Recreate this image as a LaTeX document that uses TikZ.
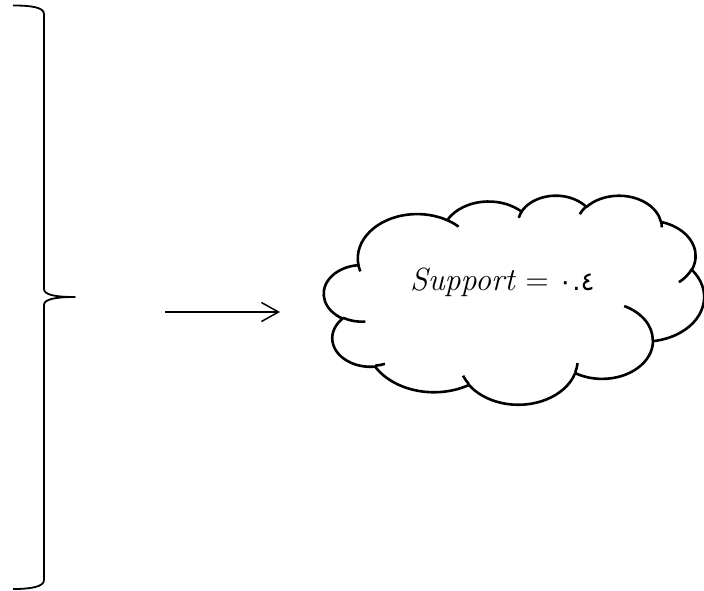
\documentclass[tikz,border=0pt]{standalone}
\usepackage{fontspec}
\newfontfamily\arabicfont[Script=Arabic]{DejaVu Sans}
\usetikzlibrary{arrows.meta}
\def\cux{8.796}
\def\cuy{4.838}
\newcommand\cloudarc[4]{%
  \pgfextra{%
    \pgfmathsetmacro\cA{atan2(#1*sin(#3),#2*cos(#3))}%
    \pgfmathsetmacro\cB{atan2(#1*sin(#3+#4),#2*cos(#3+#4))}%
    \pgfmathsetmacro\cD{\cB-\cA}%
    \pgfmathsetmacro\cD{ifthenelse(\cD<0,\cD+360,\cD)}%
    \pgfmathsetmacro\cS{-\cA}%
    \pgfmathsetmacro\cE{-\cA-\cD}%
    \pgfmathsetmacro\cRx{#1*\cux}%
    \pgfmathsetmacro\cRy{#2*\cuy}%
    \global\let\cS\cS \global\let\cE\cE
    \global\let\cRx\cRx \global\let\cRy\cRy
  }%
  arc[x radius=\cRx pt, y radius=\cRy pt, start angle=\cS, end angle=\cE]%
}
\tikzset{
  braceline/.style={line width=1.8pt, line join=round},
  cloudline/.style={line width=2.6pt, line join=round},
  arrowline/.style={line width=1.5pt, -{Straight Barb[length=17pt,width=19pt,line width=1.5pt]}},
  lbl/.style={inner sep=0pt, font=\fontsize{32}{36}\selectfont}
}
\begin{document}
\begin{tikzpicture}[x=1pt,y=-1pt]
\useasboundingbox[fill=white] (0,0) rectangle (704,590);
% brace
\draw[braceline] (13,5.5) .. controls (30,5.5) and (44,7) .. (44,14)
  -- (44,289) .. controls (44,295) and (56,297) .. (75,297)
  .. controls (56,297) and (44,299) .. (44,305)
  -- (44,580) .. controls (44,587) and (30,589) .. (13,589);
% arrow
\coordinate (arrS) at (165,312);
\coordinate (arrE) at (280,312);
\draw[arrowline] (arrS) -- (arrE);
% cloud
\begin{scope}[shift={(324,195)}, x=\cux pt, y=-\cuy pt]
\draw[cloudline] (3.9,14.37)
 \cloudarc{6.753}{9.190}{-190.4875}{123.7805}
 \cloudarc{5.333}{7.267}{-144.1024}{89.9452}
 \cloudarc{4.365}{5.945}{-145.8079}{99.7230}
 \cloudarc{4.857}{6.595}{-130.9861}{117.2417}
 \cloudarc{5.333}{7.273}{-78.7089}{109.0269}
 \cloudarc{6.775}{9.220}{-46.2673}{130.2690}
 \cloudarc{5.785}{7.867}{0.6250}{114.0333}
 \cloudarc{6.752}{9.215}{22.4516}{115.1726}
 \cloudarc{7.720}{10.543}{66.2426}{75.7110}
 \cloudarc{4.360}{5.918}{-274.9421}{146.7356}
 \cloudarc{4.345}{5.945}{-246.8285}{152.5189}
 -- cycle;
\draw[cloudline] (4.693,26.177) \cloudarc{4.345}{5.945}{86.7420}{26.4295}
 (6.928,34.899) \cloudarc{4.360}{5.918}{73.6105}{11.4475}
 (16.478,39.090) \cloudarc{6.752}{9.215}{137.6242}{14.0811}
 (28.827,34.751) \cloudarc{6.752}{9.215}{6.4533}{15.9984}
 (34.129,22.954) \cloudarc{5.785}{7.867}{-70.2924}{70.9174}
 (41.798,15.354) \cloudarc{5.333}{7.273}{30.3180}{27.7515}
 (38.324,5.426) \cloudarc{4.857}{6.595}{-13.7443}{14.8589}
 (29.078,3.952) \cloudarc{4.857}{6.595}{-149.1815}{18.1954}
 (22.141,4.720) \cloudarc{4.365}{5.945}{-163.4943}{17.6864}
 (14.000,5.192) \cloudarc{6.753}{9.190}{-66.7070}{12.3194}
 (4.127,15.789) \cloudarc{6.753}{9.190}{157.6544}{11.8582};
\end{scope}
\node[lbl, anchor=base west] (sup) at (410,290) {\itshape Support\/\upshape\ = {\arabicfont\fontsize{26}{28}\selectfont ٠.٤}};
\end{tikzpicture}
\end{document}
